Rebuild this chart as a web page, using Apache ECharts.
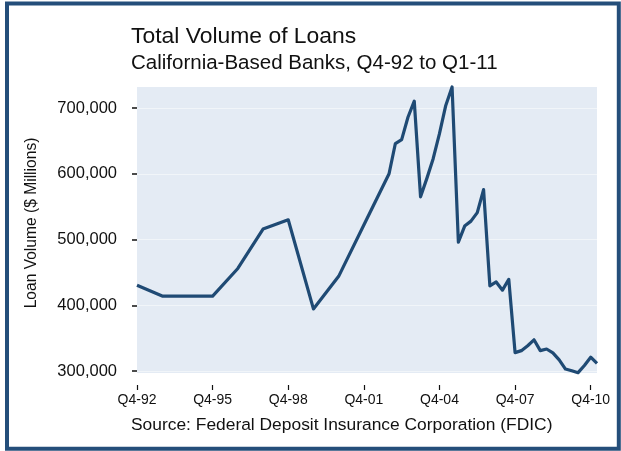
<!DOCTYPE html>
<html>
<head>
<meta charset="utf-8">
<script src="https://cdn.jsdelivr.net/npm/echarts@6/dist/echarts.min.js"></script>
<style>
  html, body { margin: 0; padding: 0; background: #fff; }
  #chart { width: 621px; height: 451px; }
</style>
</head>
<body>
<div id="chart"></div>
<script>
// quarter labels and total loans ($ millions)
var quarters = [
  "Q4-92", "Q4-93", "Q4-94", "Q4-95", "Q4-96", "Q4-97", "Q4-98", "Q4-99", "Q4-00", "Q4-01",
  "Q4-02", "Q1-03", "Q2-03", "Q3-03", "Q4-03", "Q1-04", "Q2-04", "Q3-04", "Q4-04",
  "Q1-05", "Q2-05", "Q3-05", "Q4-05", "Q1-06", "Q2-06", "Q3-06", "Q4-06",
  "Q1-07", "Q2-07", "Q3-07", "Q4-07", "Q1-08", "Q2-08", "Q3-08", "Q4-08",
  "Q1-09", "Q2-09", "Q3-09", "Q4-09", "Q1-10", "Q2-10", "Q3-10", "Q4-10", "Q1-11"
];
var loans = [
  430500, 414000, 414000, 414000, 456000, 516000, 530000, 394500, 444000, 522000,
  600000, 646000, 652000, 686000, 710500, 565000, 593000, 623000, 661000,
  704000, 732000, 496000, 520500, 528000, 541000, 576000, 429500,
  435500, 423000, 439500, 328000, 331000, 338500, 347500, 331000,
  333500, 327500, 317000, 303000, 300500, 297500, 308500, 321000, 311500
];
var xTicks = ["Q4-92", "Q4-95", "Q4-98", "Q4-01", "Q4-04", "Q4-07", "Q4-10"];
var yTicks = [300000, 400000, 500000, 600000, 700000];

// quarters since Q4-92
function qIndex(label) {
  var q = parseInt(label.charAt(1), 10);
  var yy = parseInt(label.slice(3), 10);
  var year = yy < 50 ? 2000 + yy : 1900 + yy;
  return (year - 1992) * 4 + (q - 4);
}
function fmt(v) {
  return String(v).replace(/\B(?=(\d{3})+(?!\d))/g, ",");
}

var font = "Liberation Sans, Arial, Helvetica, sans-serif";
var xTickVals = xTicks.map(qIndex);
var tickName = {};
xTicks.forEach(function (t) { tickName[qIndex(t)] = t; });

var chart = echarts.init(document.getElementById("chart"));
var option = {
  animation: false,
  title: [
    {
      text: "Total Volume of Loans",
      left: 126, top: 20,
      textStyle: { fontFamily: font, fontSize: 22.9, fontWeight: "normal", color: "#111" }
    },
    {
      text: "California-Based Banks, Q4-92 to Q1-11",
      left: 126, top: 48,
      textStyle: { fontFamily: font, fontSize: 20.5, fontWeight: "normal", color: "#111" }
    },
    {
      text: "Source: Federal Deposit Insurance Corporation (FDIC)",
      left: 126, top: 412,
      textStyle: { fontFamily: font, fontSize: 17.4, fontWeight: "normal", color: "#111" }
    }
  ],
  graphic: [
    {
      type: "rect",
      shape: { x: 7, y: 3.5, width: 611.8, height: 445.3 },
      style: { fill: "none", stroke: "#244e7a", lineWidth: 4 },
      silent: true
    },
    {
      type: "text",
      x: 32, y: 223,
      rotation: Math.PI / 2,
      style: {
        text: "Loan Volume ($ Millions)",
        fontFamily: font, fontSize: 15.6, fill: "#111",
        align: "center", verticalAlign: "middle"
      }
    }
  ],
  grid: {
    left: 137, right: 24, top: 87, bottom: 78,
    show: true, backgroundColor: "#e4ebf4", borderWidth: 0
  },
  xAxis: {
    type: "value",
    min: 0, max: 73,
    offset: 12,
    axisLine: { show: false },
    axisTick: { show: true, length: 5, customValues: xTickVals, lineStyle: { color: "#111", width: 1.2 } },
    axisLabel: {
      customValues: xTickVals, margin: 8,
      fontFamily: font, fontSize: 14, color: "#111",
      formatter: function (v) { return tickName[v] || ""; }
    },
    splitLine: { show: false }
  },
  yAxis: {
    type: "value",
    min: 297000, max: 732000,
    offset: 10,
    axisLine: { show: false },
    axisTick: { show: true, length: 5, customValues: yTicks, lineStyle: { color: "#111", width: 1.5 } },
    axisLabel: {
      customValues: yTicks, margin: 10,
      fontFamily: font, fontSize: 16.5, color: "#111",
      formatter: fmt
    },
    splitLine: { show: true, lineStyle: { color: "#f1f5f9", width: 1 } }
  },
  series: [
    {
      type: "line",
      data: quarters.map(function (q, i) { return [qIndex(q), loans[i]]; }),
      symbol: "none",
      clip: false,
      lineStyle: { color: "#1f4a74", width: 3.2, join: "round" }
    }
  ]
};
chart.setOption(option);
</script>
</body>
</html>
